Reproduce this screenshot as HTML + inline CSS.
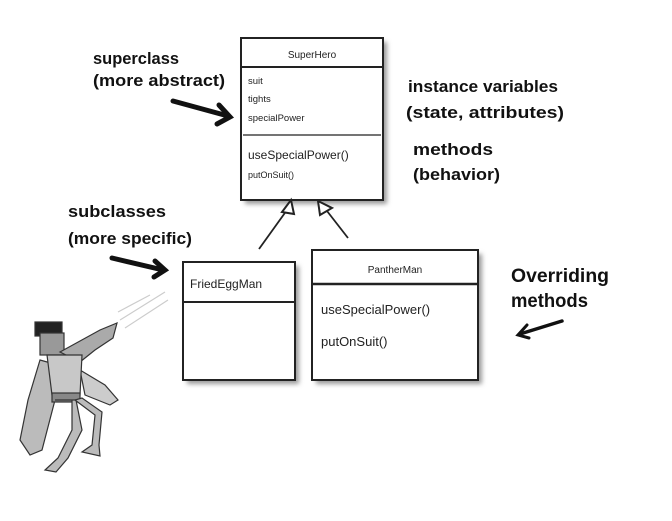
<!DOCTYPE html>
<html><head><meta charset="utf-8"><style>
html,body{margin:0;padding:0;background:#fff;}
svg{display:block;}
.h{font-family:"Liberation Sans",sans-serif;font-weight:bold;fill:#111;}
.u{font-family:"Liberation Sans",sans-serif;fill:#222;}
</style></head><body>
<svg width="672" height="521" viewBox="0 0 672 521" xmlns="http://www.w3.org/2000/svg">
<defs>
<filter id="sh" x="-10%" y="-10%" width="130%" height="130%"><feGaussianBlur stdDeviation="2.5"/></filter>
</defs>
<rect x="245" y="42" width="142" height="162" fill="#999" filter="url(#sh)"/>
<rect x="187" y="266" width="112" height="118" fill="#999" filter="url(#sh)"/>
<rect x="316" y="254" width="166" height="130" fill="#999" filter="url(#sh)"/>
<rect x="241" y="38" width="142" height="162" fill="#fff" stroke="#222" stroke-width="2"/>
<line x1="241" y1="67" x2="383" y2="67" stroke="#222" stroke-width="2"/>
<line x1="243" y1="135" x2="381" y2="135" stroke="#222" stroke-width="1.2"/>
<text class="u" x="312" y="58" font-size="10" text-anchor="middle">SuperHero</text>
<text class="u" x="248" y="84" font-size="9.5">suit</text>
<text class="u" x="248" y="102" font-size="9.5">tights</text>
<text class="u" x="248" y="121" font-size="9.5">specialPower</text>
<text class="u" x="248" y="159" font-size="12">useSpecialPower()</text>
<text class="u" x="248" y="178" font-size="9">putOnSuit()</text>
<rect x="183" y="262" width="112" height="118" fill="#fff" stroke="#222" stroke-width="2"/>
<line x1="183" y1="302" x2="295" y2="302" stroke="#222" stroke-width="2"/>
<text class="u" x="190" y="288" font-size="12">FriedEggMan</text>
<rect x="312" y="250" width="166" height="130" fill="#fff" stroke="#222" stroke-width="2"/>
<line x1="312" y1="284" x2="478" y2="284" stroke="#222" stroke-width="2.5"/>
<text class="u" x="395" y="273" font-size="10" text-anchor="middle">PantherMan</text>
<text class="u" x="321" y="314" font-size="13">useSpecialPower()</text>
<text class="u" x="321" y="346" font-size="13">putOnSuit()</text>
<line x1="259" y1="249" x2="287" y2="210" stroke="#222" stroke-width="1.8"/>
<polygon points="291,200 282,212 294,214" fill="#fff" stroke="#222" stroke-width="2"/>
<line x1="348" y1="238" x2="327" y2="211" stroke="#222" stroke-width="1.8"/>
<polygon points="318,201 320,215 332,208" fill="#fff" stroke="#222" stroke-width="2"/>
<g class="h" font-size="17">
<text x="93" y="64" textLength="86" lengthAdjust="spacingAndGlyphs">superclass</text>
<text x="93" y="86" textLength="132" lengthAdjust="spacingAndGlyphs">(more abstract)</text>
<text x="408" y="92" textLength="150" lengthAdjust="spacingAndGlyphs">instance variables</text>
<text x="406" y="118" textLength="158" lengthAdjust="spacingAndGlyphs">(state, attributes)</text>
<text x="413" y="155" textLength="80" lengthAdjust="spacingAndGlyphs">methods</text>
<text x="413" y="180" textLength="87" lengthAdjust="spacingAndGlyphs">(behavior)</text>
<text x="68" y="217" textLength="98" lengthAdjust="spacingAndGlyphs">subclasses</text>
<text x="68" y="244" textLength="124" lengthAdjust="spacingAndGlyphs">(more specific)</text>
<text x="511" y="282" textLength="98" lengthAdjust="spacingAndGlyphs" font-size="19">Overriding</text>
<text x="511" y="307" textLength="77" lengthAdjust="spacingAndGlyphs" font-size="19">methods</text>
</g>
<g stroke="#111" stroke-width="5" fill="none" stroke-linecap="round">
<path d="M173 101 L228 116"/><path d="M219 105 L230 117 L217 124"/>
<path d="M112 258 L163 270"/><path d="M155 261 L165 270 L154 277"/>
<path d="M562 321 L520 334" stroke-width="3.5"/><path d="M527 325 L518 335 L529 338" stroke-width="3"/>
</g>
<g stroke="#333" stroke-width="1.2">
<path d="M120 320 L165 292 M125 328 L168 300 M118 312 L150 295" stroke="#ccc" fill="none"/>
<path d="M40 360 L28 400 L20 440 L30 455 L42 450 L55 400 L58 365 Z" fill="#bbb"/>
<path d="M80 370 L105 385 L118 400 L110 405 L85 395 Z" fill="#ccc"/>
<rect x="35" y="322" width="27" height="14" fill="#222"/>
<rect x="40" y="333" width="24" height="22" fill="#999"/>
<path d="M60 352 L100 330 L117 323 L113 338 L95 350 L80 362 Z" fill="#aaa"/>
<path d="M47 355 L82 355 L80 395 L52 395 Z" fill="#c8c8c8"/>
<rect x="52" y="393" width="28" height="9" fill="#888"/>
<path d="M55 400 L72 400 L72 430 L58 458 L45 470 L56 472 L68 458 L82 430 L76 400 Z" fill="#bbb"/>
<path d="M75 400 L95 415 L92 445 L82 452 L100 456 L99 445 L102 412 L82 398 Z" fill="#bbb"/>
</g>
</svg>
</body></html>
